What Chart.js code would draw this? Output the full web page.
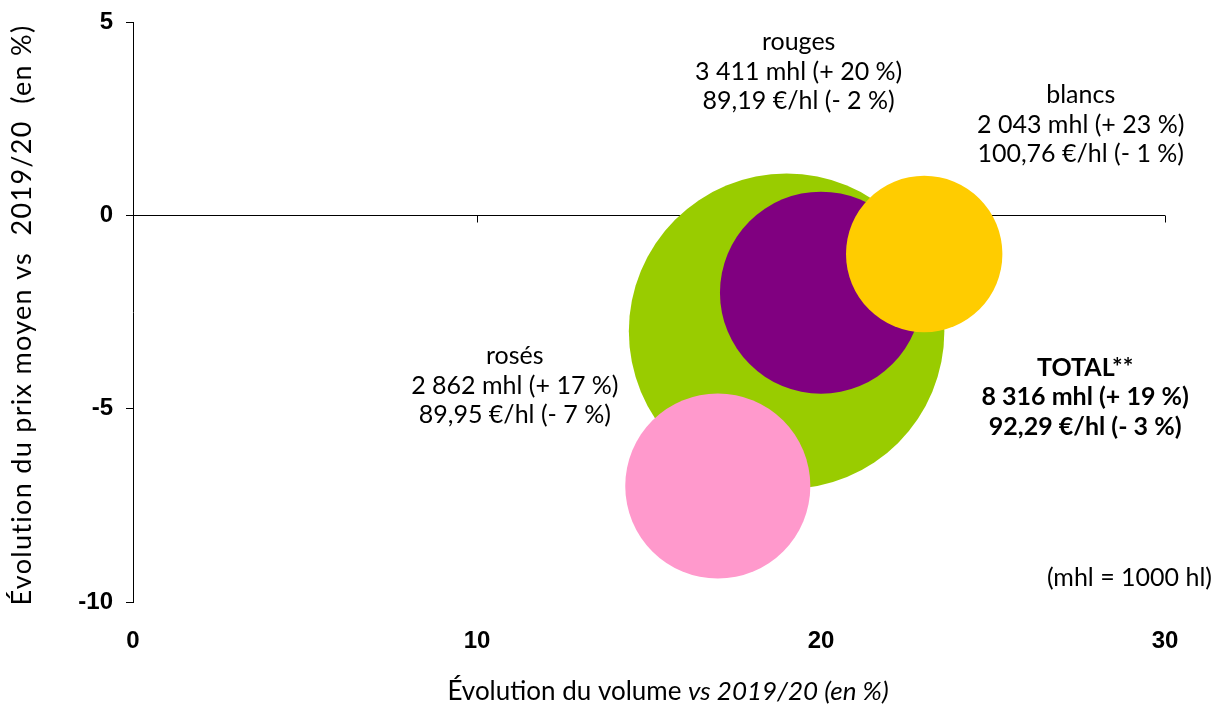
<!DOCTYPE html>
<html><head><meta charset="utf-8">
<script src="https://cdn.jsdelivr.net/npm/chart.js@4/dist/chart.umd.min.js"></script>
<style>html,body{margin:0;padding:0;background:#fff}#wrap{width:1216px;height:705px}</style>
</head><body><div id="wrap"><canvas id="c" width="1216" height="705"></canvas></div>
<script>
// Data
const categories = ['TOTAL**', 'rouges', 'blancs', 'rosés'];
const volumeChange = [19, 20, 23, 17];      // x: évolution du volume (%)
const priceChange = [-3, -2, -1, -7];       // y: évolution du prix moyen (%)
const volumes = [8316, 3411, 2043, 2862];   // mhl
const labelLines = [
  ['TOTAL**', '8 316 mhl (+ 19 %)', '92,29 €/hl (- 3 %)'],
  ['rouges', '3 411 mhl (+ 20 %)', '89,19 €/hl (- 2 %)'],
  ['blancs', '2 043 mhl (+ 23 %)', '100,76 €/hl (- 1 %)'],
  ['rosés', '2 862 mhl (+ 17 %)', '89,95 €/hl (- 7 %)']
];
const xTicks = [0, 10, 20, 30];
const yTicks = [-10, -5, 0, 5];
const xTitle = ['Évolution du volume ', 'vs 2019/20 (en %)'];
const yTitle = 'Évolution du prix moyen vs  2019/20  (en %)';
const note = '(mhl = 1000 hl)';

// Styling / layout (not data)
const colors = ['#99CC00', '#800080', '#FFCC00', '#FF99CC'];
const labelPos = [ [27.68, -4.7], [19.35, 3.72], [27.55, 2.35], [11.1, -4.4] ]; // centre of middle line, data coords
const radiusScale = 1.73;
const annFont = '"Lato", "Noto Sans", sans-serif';

// Prevent the bubble controller from reserving the largest radius as layout padding
Chart.BubbleController.prototype.getMaxOverflow = function () { return false; };

const datasets = categories.map((c, i) => ({
  label: c,
  data: [{x: volumeChange[i], y: priceChange[i], v: volumes[i]}],
  backgroundColor: colors[i],
  borderColor: colors[i],
  borderWidth: 0,
  order: categories.length - i,
  clip: false,
  radius: ctx => Math.sqrt(ctx.raw.v) * radiusScale,
  hoverRadius: 0
}));

const overlay = {
  id: 'overlay',
  beforeDatasetsDraw(chart) {
    const {ctx, scales: {x, y}} = chart;
    const y0 = Math.round(y.getPixelForValue(0)) + 0.5;
    ctx.save();
    ctx.strokeStyle = '#000';
    ctx.lineWidth = 1;
    ctx.beginPath();
    ctx.moveTo(x.left, y0);
    ctx.lineTo(x.right, y0);
    xTicks.filter(t => t > 0).forEach(t => {
      const px = Math.round(x.getPixelForValue(t)) + 0.5;
      ctx.moveTo(px, y0);
      ctx.lineTo(px, y0 + 7);
    });
    ctx.stroke();
    ctx.restore();
  },
  afterDatasetsDraw(chart) {
    const {ctx, scales: {x, y}, chartArea} = chart;
    ctx.save();
    ctx.fillStyle = '#000';
    ctx.textAlign = 'center';
    ctx.textBaseline = 'middle';
    labelLines.forEach((lines, i) => {
      const cx = x.getPixelForValue(labelPos[i][0]);
      const cy = y.getPixelForValue(labelPos[i][1]);
      ctx.font = (i === 0 ? 'bold ' : '') + '25px ' + annFont;
      lines.forEach((t, k) => ctx.fillText(t, cx, cy + (k - 1) * 29.5));
    });
    ctx.font = '25px ' + annFont;
    ctx.textAlign = 'right';
    ctx.fillText(note, 1212, 578);
    // x-axis title with italic part
    ctx.font = '26px ' + annFont;
    const w1 = ctx.measureText(xTitle[0]).width;
    ctx.font = 'italic 26px ' + annFont;
    const w2 = ctx.measureText(xTitle[1]).width;
    const startX = 668 - (w1 + w2) / 2;
    ctx.textAlign = 'left';
    ctx.font = '26px ' + annFont;
    ctx.fillText(xTitle[0], startX, 692);
    ctx.font = 'italic 26px ' + annFont;
    ctx.fillText(xTitle[1], startX + w1, 692);
    // y-axis title
    ctx.translate(22, (chartArea.top + chartArea.bottom) / 2 + 3);
    ctx.rotate(-Math.PI / 2);
    ctx.textAlign = 'center';
    ctx.font = '27px ' + annFont;
    if ('letterSpacing' in ctx) ctx.letterSpacing = '1.3px';
    ctx.fillText(yTitle, 0, 0);
    ctx.restore();
  }
};

new Chart(document.getElementById('c'), {
  type: 'bubble',
  data: { datasets },
  options: {
    responsive: false,
    animation: false,
    events: [],
    layout: { padding: { left: 0, right: 51, top: 22, bottom: 0 } },
    plugins: { legend: { display: false }, tooltip: { enabled: false } },
    scales: {
      x: {
        type: 'linear', min: 0, max: 30,
        afterBuildTicks: s => { s.ticks = xTicks.map(v => ({value: v})); },
        grid: { display: false, drawTicks: false },
        border: { display: false },
        ticks: { color: '#000', font: { family: '"Liberation Sans", Arial, sans-serif', size: 24, weight: 'bold' }, padding: 25, maxRotation: 0 },
        afterFit: s => { s.height = 103; s.paddingLeft = 0; s.paddingRight = 0; }
      },
      y: {
        type: 'linear', min: -10, max: 5,
        afterBuildTicks: s => { s.ticks = yTicks.map(v => ({value: v})); },
        grid: { display: true, drawOnChartArea: false, drawTicks: true, tickLength: 7, tickColor: '#000', color: '#000' },
        border: { display: true, color: '#000', width: 1 },
        ticks: { color: '#000', font: { family: '"Liberation Sans", Arial, sans-serif', size: 24, weight: 'bold' }, padding: 13 },
        title: { display: false },
        afterFit: s => { s.width = 133; s.paddingTop = 0; s.paddingBottom = 0; }
      }
    }
  },
  plugins: [overlay]
});
</script>
</body></html>
